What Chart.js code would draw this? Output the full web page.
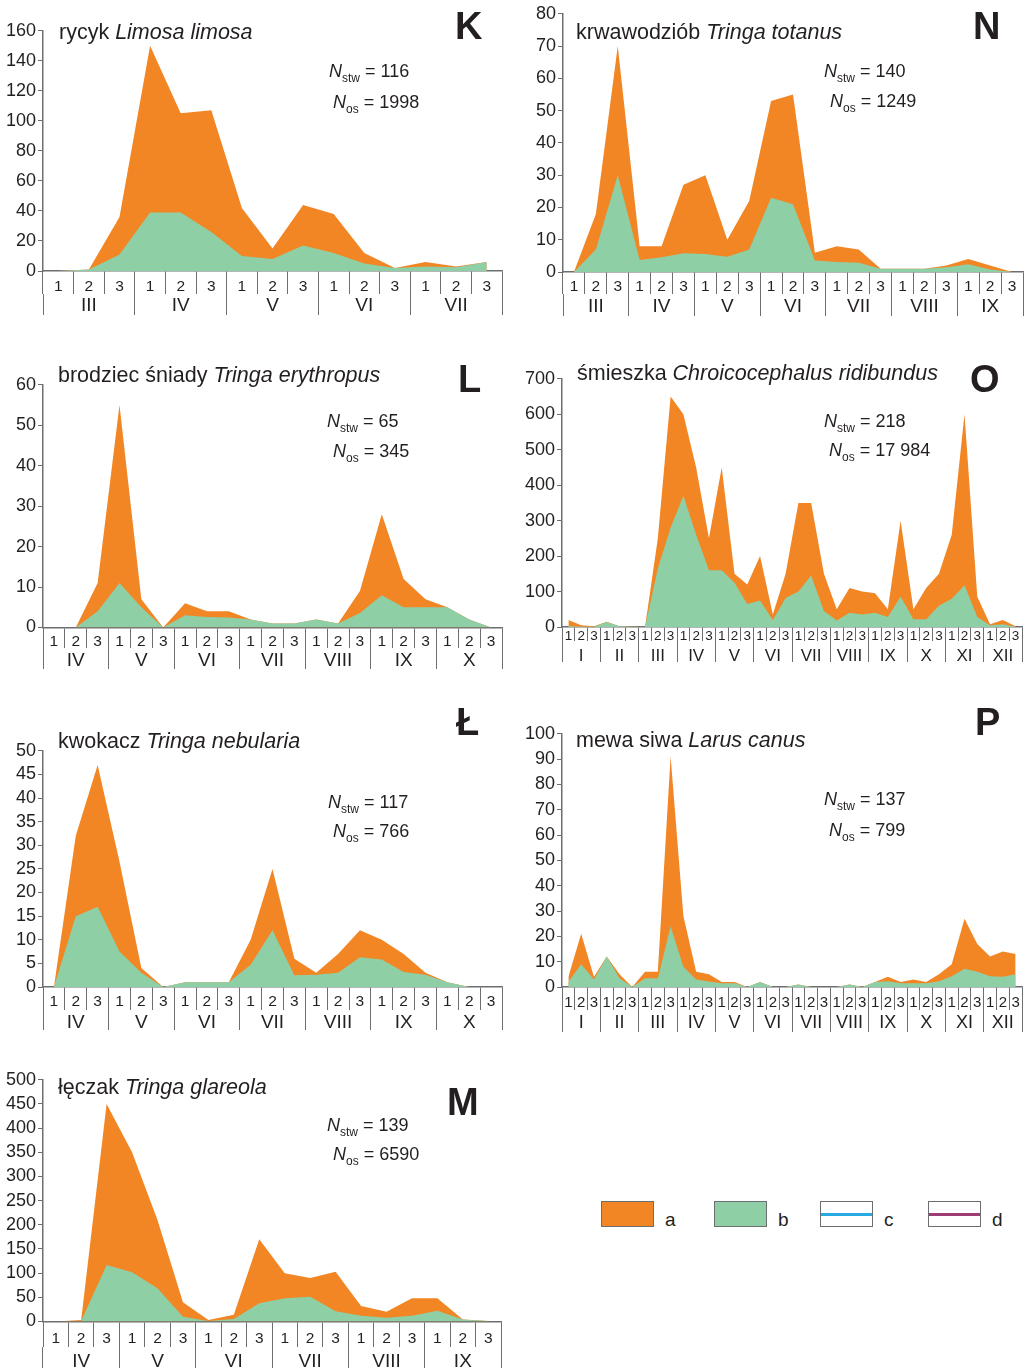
<!DOCTYPE html>
<html>
<head>
<meta charset="utf-8">
<script src="https://cdn.jsdelivr.net/npm/chart.js@4.4.0/dist/chart.umd.min.js"></script>
<style>
  body { margin: 0; width: 1027px; height: 1368px; overflow: hidden; background: #fff; position: relative;
         font-family: "Liberation Sans", Arial, sans-serif; color: #231f20; }
  canvas { position: absolute; }
  .t { position: absolute; white-space: nowrap; font-size: 21.5px; line-height: 21.5px; }
  .n { position: absolute; white-space: nowrap; font-size: 18px; line-height: 18px; }
  .n sub { font-size: 12px; vertical-align: -5px; line-height: 0; }
  .big { position: absolute; font-weight: bold; font-size: 38px; line-height: 38px; }
  .box { position: absolute; box-sizing: border-box; border: 1px solid #6d6e71; width: 53px; height: 26px; }
  .box i { position: absolute; left: 0; right: 0; top: 11px; height: 2.5px; }
  .lt { position: absolute; font-size: 19px; line-height: 19px; }
</style>
</head>
<body>
<script>
const ORANGE = '#f28524';
const GREEN = '#8ecfa5';
const LINE = '#6d6e71';
const TXT = '#231f20';
const FONT = '"Liberation Sans", Arial, sans-serif';
Chart.defaults.font.family = FONT;

const decades = ['1', '2', '3'];

// K - rycyk
const kMonths = ['III', 'IV', 'V', 'VI', 'VII'];
const kA = [0, 1, 36, 150, 105, 107, 42, 15, 44, 38, 12, 2, 6, 3, 6];
const kB = [0, 1, 11, 39, 39, 26, 10, 8, 17, 12, 5, 2, 3, 2.5, 6];

// N - krwawodziób
const nMonths = ['III', 'IV', 'V', 'VI', 'VII', 'VIII', 'IX'];
const nA = [0, 18, 70, 8, 8, 27, 30, 10, 22, 53, 55, 6, 8, 7, 1, 1, 1, 2, 4, 2, 0];
const nB = [0, 7, 30, 3.7, 4.6, 5.8, 5.6, 4.7, 7, 23, 21, 3.6, 3.1, 2.9, 1, 1, 1, 1.5, 2.4, 0.8, 0];

// L - brodziec śniady
const lMonths = ['IV', 'V', 'VI', 'VII', 'VIII', 'IX', 'X'];
const lA = [0, 0, 11, 55, 7, 0, 6, 4, 4, 2, 1, 1, 2, 1, 9, 28, 12, 7, 5, 2, 0];
const lB = [0, 0, 4, 11, 5, 0, 3, 2.6, 2.5, 2, 1, 1, 2, 1, 3.6, 8, 5, 5, 5, 2, 0];

// O - śmieszka
const oMonths = ['I', 'II', 'III', 'IV', 'V', 'VI', 'VII', 'VIII', 'IX', 'X', 'XI', 'XII'];
const oA = [20, 5, 2, 15, 2, 1, 0, 250, 650, 600, 450, 250, 450, 150, 120, 200, 35, 150,
            350, 350, 150, 50, 110, 100, 95, 50, 300, 50, 110, 150, 260, 600, 85, 8, 20, 2];
const oB = [3, 1, 1, 14, 2, 1, 0, 165, 280, 370, 260, 160, 160, 125, 65, 75, 20, 82,
            100, 145, 45, 18, 40, 35, 40, 28, 86, 22, 22, 60, 80, 118, 28, 5, 8, 1];

// Ł - kwokacz
const wMonths = ['IV', 'V', 'VI', 'VII', 'VIII', 'IX', 'X'];
const wA = [0, 32, 47, 26.5, 4, 0, 1, 1, 1, 10, 25, 6, 3, 7, 12, 10, 7, 3, 1, 0, 0];
const wB = [0, 15, 17, 7.5, 3, 0, 1, 1, 1, 4.7, 12, 2.5, 2.6, 3, 6.3, 5.8, 3.2, 2.6, 1, 0, 0];

// P - mewa siwa
const pMonths = ['I', 'II', 'III', 'IV', 'V', 'VI', 'VII', 'VIII', 'IX', 'X', 'XI', 'XII'];
const pA = [4, 21, 4, 12, 5, 0, 6, 6, 91, 28, 6, 5, 2, 2, 0, 2, 0, 0,
            1, 0, 0, 0, 1, 0, 2, 4, 2, 3, 2, 5, 9, 27, 17, 12, 14, 13];
const pB = [2, 9, 3, 12, 3.5, 0, 3.5, 3.5, 24, 8, 3, 2.2, 1.5, 1.5, 0, 2, 0, 0,
            1, 0, 0, 0, 1, 0, 2, 2.3, 1.5, 1.5, 1.5, 2.3, 4.2, 7.2, 6, 4.2, 4, 5];

// M - łęczak
const mMonths = ['IV', 'V', 'VI', 'VII', 'VIII', 'IX'];
const mA = [0, 3, 450, 350, 210, 40, 3, 14, 170, 100, 90, 103, 32, 20, 48, 48, 4, 1];
const mB = [0, 1, 117, 102, 69, 10, 1, 5, 38, 48, 51, 21, 12, 8, 12, 22, 4, 1];

const legendKeys = ['a', 'b', 'c', 'd'];

// r1/r2: heights of the decade and month rows; dOff/mOff: label centre within the row
const panels = [
  { months: kMonths, a: kA, b: kB, yMax: 160, step: 20,
    axisX: 43, top: 30, zero: 271, right: 502, r1: 23, r2: 21, dOff: 14.5, mOff: 10.5, dFont: 15.5, mFont: 19,
    name: 'rycyk', latin: 'Limosa limosa', stw: '116', os: '1998', letter: 'K',
    tx: 59, ty: 40, n1: [329, 77], n2: [333, 108], lt: [455, 39] },
  { months: nMonths, a: nA, b: nB, yMax: 80, step: 10,
    axisX: 563, top: 12.5, zero: 271, right: 1023, r1: 22, r2: 22, dOff: 14, mOff: 12, dFont: 15.5, mFont: 19,
    name: 'krwawodziób', latin: 'Tringa totanus', stw: '140', os: '1249', letter: 'N',
    tx: 576, ty: 40, n1: [824, 77], n2: [830, 107], lt: [973, 39] },
  { months: lMonths, a: lA, b: lB, yMax: 60, step: 10,
    axisX: 43, top: 384, zero: 627, right: 502, r1: 20.5, r2: 21, dOff: 13, mOff: 11.5, dFont: 15.5, mFont: 19,
    name: 'brodziec śniady', latin: 'Tringa erythropus', stw: '65', os: '345', letter: 'L',
    tx: 58, ty: 383, n1: [327, 427], n2: [333, 457], lt: [458, 392] },
  { months: oMonths, a: oA, b: oB, yMax: 700, step: 100,
    axisX: 562, top: 378, zero: 627, right: 1022, r1: 14, r2: 21, dOff: 8.5, mOff: 14, dFont: 13.5, mFont: 17,
    name: 'śmieszka', latin: 'Chroicocephalus ridibundus', stw: '218', os: '17 984', letter: 'O',
    tx: 577, ty: 381, n1: [824, 427], n2: [829, 456], lt: [970, 392] },
  { months: wMonths, a: wA, b: wB, yMax: 50, step: 5,
    axisX: 43, top: 750, zero: 987, right: 502, r1: 23, r2: 20, dOff: 14, mOff: 11.5, dFont: 15.5, mFont: 19,
    name: 'kwokacz', latin: 'Tringa nebularia', stw: '117', os: '766', letter: 'Ł',
    tx: 58, ty: 749, n1: [328, 808], n2: [333, 837], lt: [456, 735] },
  { months: pMonths, a: pA, b: pB, yMax: 100, step: 10,
    axisX: 562, top: 733, zero: 987, right: 1022, r1: 23, r2: 22, dOff: 14.5, mOff: 12.5, dFont: 15, mFont: 18,
    name: 'mewa siwa', latin: 'Larus canus', stw: '137', os: '799', letter: 'P',
    tx: 576, ty: 748, n1: [824, 805], n2: [829, 836], lt: [975, 735] },
  { months: mMonths, a: mA, b: mB, yMax: 500, step: 50,
    axisX: 43, top: 1079, zero: 1321, right: 501, r1: 25.5, r2: 30, dOff: 16.5, mOff: 14, dFont: 15.5, mFont: 19,
    name: 'łęczak', latin: 'Tringa glareola', stw: '139', os: '6590', letter: 'M',
    tx: 58, ty: 1095, n1: [327, 1131], n2: [333, 1160], lt: [447, 1115] }
];

function addText(cls, html, x, baseline, size) {
  const d = document.createElement('div');
  d.className = cls;
  d.innerHTML = html;
  d.style.left = x + 'px';
  d.style.top = (baseline - 0.8465 * size) + 'px';
  document.body.appendChild(d);
}

const yW = 40, padL = 3, padT = 12, padR = 3, padB = 1;

panels.forEach(p => {
  const left = p.axisX - yW - padL;
  const top = p.top - padT;
  const w = Math.round(p.right + padR - left);
  const h = Math.round(p.zero + p.r1 + p.r2 + padB - top);
  const cv = document.createElement('canvas');
  cv.width = w; cv.height = h;
  cv.style.left = left + 'px'; cv.style.top = top + 'px';
  cv.style.width = w + 'px'; cv.style.height = h + 'px';
  document.body.appendChild(cv);

  new Chart(cv, {
    type: 'line',
    data: {
      labels: p.months.flatMap(() => decades),
      datasets: [
        { label: 'b', data: p.b, backgroundColor: GREEN, borderColor: 'rgba(0,0,0,0)', fill: 'origin', order: 0 },
        { label: 'a', data: p.a, backgroundColor: ORANGE, borderColor: 'rgba(0,0,0,0)', fill: 'origin', order: 1 }
      ]
    },
    options: {
      responsive: false,
      animation: false,
      layout: { padding: { left: padL, top: padT, right: padR, bottom: padB } },
      elements: { point: { radius: 0 }, line: { borderWidth: 0, tension: 0 } },
      plugins: { legend: { display: false }, tooltip: { enabled: false } },
      scales: {
        x: {
          type: 'category', offset: true, weight: 0,
          grid: { offset: true, drawOnChartArea: false, tickLength: p.r1, color: LINE, lineWidth: 1 },
          border: { display: true, color: LINE, width: 1.5 },
          ticks: { autoSkip: false, maxRotation: 0, color: TXT,
                   padding: p.dOff + 1 - p.r1 - p.dFont / 2,
                   font: { size: p.dFont, lineHeight: 1 } },
          afterFit: s => { s.height = p.r1; }
        },
        x2: {
          type: 'category', labels: p.months, min: 0, max: p.months.length - 1,
          offset: true, position: 'bottom', weight: 1,
          grid: { offset: true, drawOnChartArea: false, tickLength: p.r2, color: LINE, lineWidth: 1 },
          border: { display: false },
          ticks: { autoSkip: false, maxRotation: 0, color: TXT,
                   padding: p.mOff + 1 - p.r2 - p.mFont / 2,
                   font: { size: p.mFont, lineHeight: 1 } },
          afterFit: s => { s.height = p.r2; }
        },
        y: {
          min: 0, max: p.yMax,
          ticks: { stepSize: p.step, autoSkip: false, padding: 2, color: TXT, font: { size: 18 } },
          grid: { drawOnChartArea: false, tickLength: 5, color: LINE, lineWidth: 1 },
          border: { color: LINE, width: 1.5 },
          afterFit: s => { s.width = yW; }
        }
      }
    }
  });

  addText('t', p.name + ' <i>' + p.latin + '</i>', p.tx, p.ty, 21.5);
  addText('n', '<i>N</i><sub>stw</sub> = ' + p.stw, p.n1[0], p.n1[1], 18);
  addText('n', '<i>N</i><sub>os</sub> = ' + p.os, p.n2[0], p.n2[1], 18);
  addText('big', p.letter, p.lt[0], p.lt[1], 38);
});

// legend
const legendFill = [ORANGE, GREEN, '#fff', '#fff'];
const legendLine = [null, null, '#27aae1', '#9e3d75'];
const legendX = [601, 714, 820, 928];
legendKeys.forEach((k, i) => {
  const b = document.createElement('div');
  b.className = 'box';
  b.style.left = legendX[i] + 'px';
  b.style.top = '1201px';
  b.style.background = legendFill[i];
  if (legendLine[i]) {
    const ln = document.createElement('i');
    ln.style.background = legendLine[i];
    b.appendChild(ln);
  }
  document.body.appendChild(b);
  addText('lt', k, legendX[i] + 64, 1226, 19);
});
</script>
</body>
</html>
